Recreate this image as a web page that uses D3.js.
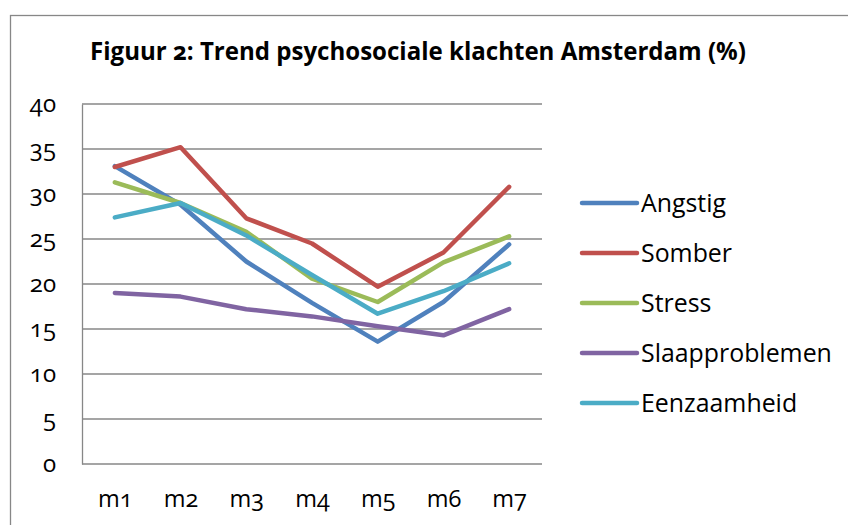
<!DOCTYPE html>
<html lang="nl">
<head>
<meta charset="utf-8">
<title>Figuur 2</title>
<script src="https://d3js.org/d3.v7.min.js"></script>
<style>
  body { margin: 0; background: #fff; }
  text { font-family: "Open Sans", sans-serif; fill: #000; font-variant-numeric: oldstyle-nums; }
</style>
</head>
<body>
<div id="chart"></div>
<script>
// data
const months = ["m1", "m2", "m3", "m4", "m5", "m6", "m7"];
const seriesNames = ["Angstig", "Somber", "Stress", "Slaapproblemen", "Eenzaamheid"];
const angstig        = [33.1, 28.8, 22.5, 17.9, 13.6, 18.0, 24.4];
const somber         = [33.0, 35.2, 27.3, 24.5, 19.7, 23.5, 30.8];
const stress         = [31.3, 29.0, 25.8, 20.6, 18.0, 22.4, 25.3];
const slaapproblemen = [19.0, 18.6, 17.2, 16.4, 15.3, 14.3, 17.2];
const eenzaamheid    = [27.4, 29.0, 25.4, 21.0, 16.7, 19.2, 22.3];
const yTicks = [0, 5, 10, 15, 20, 25, 30, 35, 40];
const colors = ["#4f81bd", "#c0504d", "#9bbb59", "#8064a2", "#4bacc6"];

const series = [angstig, somber, stress, slaapproblemen, eenzaamheid]
  .map((v, i) => ({name: seriesNames[i], values: v, color: colors[i]}));

const W = 848, H = 525;
const plot = {left: 82, right: 542, top: 104, bottom: 464};

const svg = d3.select("#chart").append("svg")
  .attr("width", W).attr("height", H);

// outer chart border
svg.append("rect")
  .attr("x", 10.5).attr("y", 15.5)
  .attr("width", 900).attr("height", 600)
  .attr("fill", "none").attr("stroke", "#878787").attr("stroke-width", 1.3);

// fit a text element to a target width by adjusting its font size
function fit(sel, target) {
  const w = sel.node().getComputedTextLength();
  const fs = parseFloat(sel.attr("font-size"));
  sel.attr("font-size", fs * target / w);
  return fs * target / w;
}

const title = svg.append("text")
  .attr("x", 418).attr("y", 60)
  .attr("text-anchor", "middle")
  .attr("font-weight", "bold")
  .attr("font-size", 20)
  .text("Figuur 2: Trend psychosociale klachten Amsterdam (%)");
fit(title, 656);

const x = d3.scalePoint().domain(months)
  .range([plot.left, plot.right]).padding(0.5);
const y = d3.scaleLinear().domain([0, 40])
  .range([plot.bottom, plot.top]);

// gridlines
svg.append("g").selectAll("line").data(yTicks).join("line")
  .attr("x1", plot.left).attr("x2", plot.right)
  .attr("y1", d => y(d)).attr("y2", d => y(d))
  .attr("stroke", "#878787").attr("stroke-width", 1.3);

// y axis
const yAxis = svg.append("g")
  .attr("transform", `translate(${plot.left},0)`)
  .call(d3.axisLeft(y).tickValues(yTicks).tickSize(0).tickPadding(26).tickFormat(d3.format("d")));
yAxis.select(".domain").attr("stroke", "#878787").attr("stroke-width", 1.3);
yAxis.selectAll("text")
  .attr("font-size", 24).attr("dy", "0.3em")
  .style("font-family", "'Open Sans', sans-serif");

// x axis
const xAxis = svg.append("g")
  .attr("transform", `translate(0,${plot.bottom})`)
  .call(d3.axisBottom(x).tickSize(0).tickPadding(26));
xAxis.select(".domain").remove();
xAxis.selectAll("text")
  .attr("font-size", 23.5)
  .style("font-family", "'Open Sans', sans-serif");

// lines
const line = d3.line()
  .x((d, i) => x(months[i]))
  .y(d => y(d));

svg.append("g").selectAll("path").data(series).join("path")
  .attr("d", d => line(d.values))
  .attr("fill", "none")
  .attr("stroke", d => d.color)
  .attr("stroke-width", 4.5)
  .attr("stroke-linejoin", "round")
  .attr("stroke-linecap", "round");

// legend
const leg = svg.append("g").selectAll("g").data(series).join("g")
  .attr("transform", (d, i) => `translate(582,${203 + i * 50})`);
leg.append("line")
  .attr("x1", 0).attr("x2", 55)
  .attr("stroke", d => d.color).attr("stroke-width", 4.5)
  .attr("stroke-linecap", "round");
const legText = leg.append("text")
  .attr("x", 59).attr("y", 9)
  .attr("font-size", 23)
  .text(d => d.name);
const legSize = fit(legText.filter(d => d.name === "Slaapproblemen"), 191);
legText.attr("font-size", legSize);
</script>
</body>
</html>
